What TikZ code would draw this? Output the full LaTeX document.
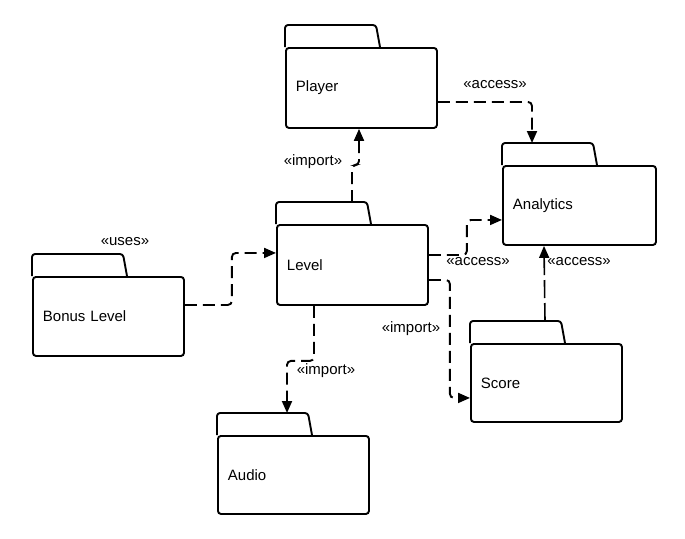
\documentclass[tikz,border=0pt]{standalone}
\usepackage{fontspec}
\setmainfont{Liberation Sans}
\usetikzlibrary{arrows.meta,calc}
\begin{document}
\begin{tikzpicture}[x=1pt,y=-1pt,
  pkg/.style={draw, line width=1.9pt, rounded corners=3pt, minimum width=151pt,
    minimum height=80pt, anchor=north west, inner xsep=10pt, text width=131pt,
    align=left, font=\fontsize{15}{17}\selectfont},
  tab/.style={line width=1.9pt, rounded corners=3pt, line join=round},
  dep/.style={line width=1.9pt, dash pattern=on 12pt off 6pt, rounded corners=4pt,
    -{Triangle[length=12pt,width=10pt]}},
  dep2/.style={dep, line width=1.6pt, dash pattern=on 18pt off 5pt},
  lbl/.style={font=\fontsize{15}{17}\selectfont, inner sep=0pt}]
\useasboundingbox (0,0) rectangle (685,538);

\node[pkg] (player) at (285,47) {Player};
\node[pkg, minimum width=153pt, text width=133pt, minimum height=79pt] (analytics) at (502,165) {Analytics};
\node[pkg] (level) at (276,224) {Level};
\node[pkg, minimum height=79pt] (bonus) at (32,276) {Bonus Level};
\node[pkg, minimum height=78pt] (score) at (470,343) {Score};
\node[pkg, minimum height=78pt] (audio) at (217,435) {Audio};

\foreach \n in {player,analytics,level,bonus,score,audio}
  \draw[tab] (\n.north west) -- ++(0,-22) -- ++(91,0) -- ++(4,22);

\draw[dep] ([yshift=-14pt]player.east) -| ($(analytics.north west)+(30,-22)$);
\draw[dep] ($(level.north west)+(76,-22)$) -- ++(0,-37) -| ($(player.south west)+(74,0)$);
\draw[dep] ([yshift=10pt]level.east) -- ++(38,0) |- ([yshift=-14.5pt]analytics.west);
\draw[dep] ([yshift=-15pt]level.east) -- ++(21,0) |- ([yshift=-15pt]score.west);
\draw[dep2] ($(score.north west)+(75,-22)$) -- ($(analytics.south west)+(42,0)$);
\draw[dep] ([yshift=11.5pt]bonus.east) -- ++(47,0) |- ([yshift=12pt]level.west);
\draw[dep] ($(level.south west)+(38,0)$) -- ++(0,55) -| ($(audio.north west)+(70,-22)$);

\node[lbl] (l1) at (495,85) {«access»};
\node[lbl] (l2) at (313,162) {«import»};
\node[lbl] (l3) at (478,262) {«access»};
\node[lbl] (l4) at (579,262) {«access»};
\node[lbl] (l5) at (411,329) {«import»};
\node[lbl] (l6) at (326,371) {«import»};
\node[lbl] (l7) at (125,242) {«uses»};
\end{tikzpicture}
\end{document}
